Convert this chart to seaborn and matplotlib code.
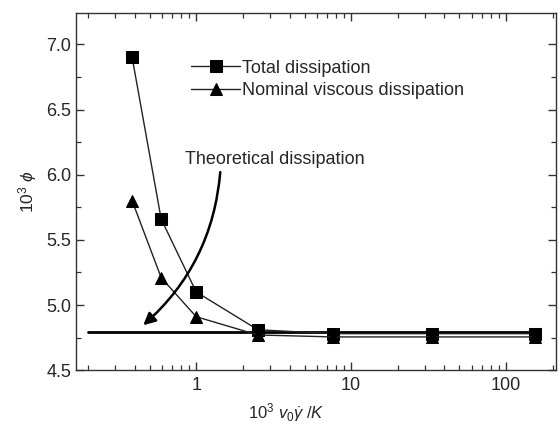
import matplotlib
matplotlib.use("Agg")
import matplotlib.pyplot as plt
import seaborn as sns
import pandas as pd
import numpy as np
from matplotlib.ticker import MultipleLocator, LogLocator, FixedLocator, NullFormatter

x_vals = [0.386, 0.594, 1.0, 2.5, 7.65, 33.0, 154.0]
total_diss = [6.90, 5.66, 5.10, 4.81, 4.78, 4.78, 4.78]
nominal_diss = [5.80, 5.21, 4.91, 4.77, 4.755, 4.755, 4.755]
theory_x = [0.2, 165.0]
theory_y = [4.79, 4.79]
xtick_labels = ["1", "10", "100"]
xtick_vals = [1, 10, 100]

sns.set_style("ticks")
plt.rcParams['font.family'] = ['Liberation Sans', 'DejaVu Sans']
plt.rcParams['mathtext.fontset'] = 'custom'
plt.rcParams['mathtext.rm'] = 'Liberation Sans'
plt.rcParams['mathtext.it'] = 'Liberation Sans:italic'

FS = 13

fig = plt.figure(figsize=(5.6, 4.24), dpi=100)
ax = fig.add_axes([0.136, 0.127, 0.857, 0.842])

df_t = pd.DataFrame({"x": x_vals, "y": total_diss})
df_n = pd.DataFrame({"x": x_vals, "y": nominal_diss})
df_th = pd.DataFrame({"x": theory_x, "y": theory_y})

sns.lineplot(data=df_th, x="x", y="y", ax=ax, color="black", linewidth=2.0, legend=False)
sns.lineplot(data=df_t, x="x", y="y", ax=ax, color="#222222", linewidth=1.0,
             marker="s", markersize=8, markeredgecolor="black", markerfacecolor="black",
             label="Total dissipation")
sns.lineplot(data=df_n, x="x", y="y", ax=ax, color="#222222", linewidth=1.0,
             marker="^", markersize=9, markeredgecolor="black", markerfacecolor="black",
             label="Nominal viscous dissipation")

ax.set_xscale("log")
ax.set_xlim(0.168, 210)
ax.set_ylim(4.5, 7.24)

ax.xaxis.set_major_locator(FixedLocator(xtick_vals))
ax.set_xticklabels(xtick_labels)
ax.xaxis.set_minor_locator(LogLocator(base=10, subs=np.arange(2, 10)))
ax.xaxis.set_minor_formatter(NullFormatter())
ax.yaxis.set_major_locator(MultipleLocator(0.5))
ax.yaxis.set_minor_locator(MultipleLocator(0.25))
ax.yaxis.set_major_formatter(matplotlib.ticker.FormatStrFormatter("%.1f"))

ax.tick_params(which="both", direction="in", top=True, right=True, labelsize=FS, color="#333333")
ax.tick_params(which="major", length=6, width=1.0)
ax.tick_params(which="minor", length=3.5, width=0.9)
for s in ax.spines.values():
    s.set_linewidth(1.0)
    s.set_color("#333333")
ax.xaxis.set_tick_params(pad=5)

ax.set_xlabel(r"$10^3\ v_0\dot{\gamma}\ /K$", fontsize=12)
ax.xaxis.set_label_coords(0.4375, -0.088)
ax.set_ylabel(r"$10^3\ \phi$", fontsize=12.5, labelpad=5)

leg = ax.legend(loc="upper left", bbox_to_anchor=(0.225, 0.89), frameon=False,
                fontsize=FS, handlelength=2.7, handletextpad=0.1, labelspacing=0.3,
                borderaxespad=0)

ax.annotate("", xy=(0.455, 4.845), xytext=(1.43, 6.02),
            arrowprops=dict(arrowstyle="-|>", color="black", lw=1.8,
                            connectionstyle="arc3,rad=-0.2", mutation_scale=18,
                            shrinkA=0, shrinkB=0))
ax.text(0.85, 6.12, "Theoretical dissipation", fontsize=FS, ha="left", va="center")

fig.savefig("out.png", dpi=100)
